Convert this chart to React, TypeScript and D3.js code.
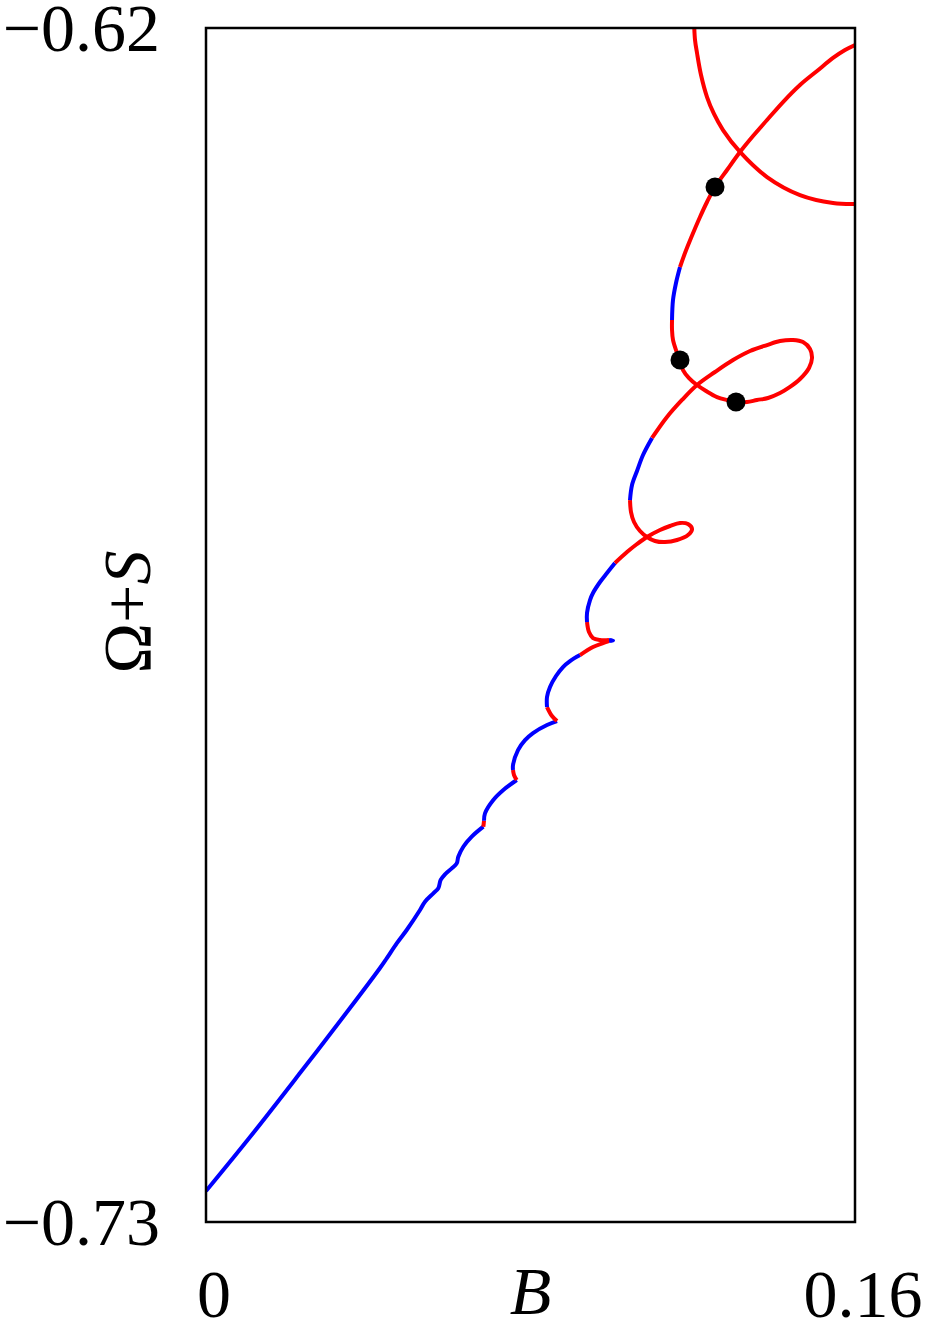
import React from "react";
import * as d3 from "d3";

// Axis domains and tick labels
const xDomain: [number, number] = [0, 0.16];
const yDomain: [number, number] = [-0.73, -0.62];
const xTickValues = [0, 0.16];
const xTickLabels = ["0", "0.16"];
const yTickValues = [-0.62, -0.73];
const yTickLabels = ["\u22120.62", "\u22120.73"];

type P = [number, number];

// Main branch, split into stability-coloured pieces (B, Ω+S)
const seg01: P[] = [[0, -0.72715], [0.01085, -0.72217], [0.02317, -0.71628], [0.0355, -0.71029], [0.0429, -0.7066], [0.04455, -0.70571], [0.04702, -0.70433], [0.04948, -0.7031], [0.05276, -0.70126], [0.05399, -0.70049], [0.05604, -0.69972], [0.05727, -0.69926], [0.05786, -0.69849], [0.05892, -0.69797], [0.06058, -0.69742], [0.06181, -0.69696], [0.0622, -0.69635], [0.06344, -0.69543], [0.06551, -0.6945], [0.06837, -0.69358]];
const seg02: P[] = [[0.06837, -0.69358], [0.06854, -0.69303]];
const seg03: P[] = [[0.06854, -0.69303], [0.06878, -0.69235], [0.07083, -0.69112], [0.0733, -0.6902], [0.0766, -0.68928]];
const seg04: P[] = [[0.0766, -0.68928], [0.07593, -0.68882], [0.07569, -0.68836]];
const seg05: P[] = [[0.07569, -0.68836], [0.07569, -0.6879], [0.07692, -0.68652], [0.07865, -0.6856], [0.08062, -0.68495], [0.08407, -0.68421], [0.08654, -0.68385]];
const seg06: P[] = [[0.08654, -0.68385], [0.0853, -0.68339], [0.08407, -0.68256]];
const seg07: P[] = [[0.08407, -0.68256], [0.08407, -0.68163], [0.08481, -0.68071], [0.08629, -0.6797], [0.08801, -0.67887], [0.08974, -0.67832], [0.09221, -0.67777]];
const seg08: P[] = [[0.09221, -0.67777], [0.09541, -0.67703], [0.09788, -0.67666], [0.09936, -0.67648]];
const seg09: P[] = [[0.09936, -0.67648], [0.10034, -0.67643], [0.09936, -0.67638]];
const seg10: P[] = [[0.09936, -0.67638], [0.09714, -0.67638], [0.09541, -0.6762], [0.09442, -0.67565], [0.09393, -0.67473]];
const seg11: P[] = [[0.09393, -0.67473], [0.09393, -0.6739], [0.09467, -0.6727], [0.09541, -0.67205], [0.09714, -0.67104], [0.09886, -0.67021], [0.10083, -0.66929]];
const seg12: P[] = [[0.10083, -0.66929], [0.10379, -0.66828], [0.10626, -0.66754], [0.10872, -0.66689], [0.11193, -0.66625], [0.11439, -0.66588], [0.11686, -0.6656], [0.11883, -0.6657], [0.11982, -0.66616], [0.11883, -0.66671], [0.11612, -0.66717], [0.11316, -0.66736], [0.1107, -0.66726], [0.10872, -0.66689], [0.107, -0.66634], [0.10552, -0.66551], [0.10478, -0.66459], [0.10453, -0.66349]];
const seg13: P[] = [[0.10453, -0.66349], [0.10503, -0.6621], [0.10626, -0.66081], [0.10774, -0.65934], [0.10996, -0.65777]];
const seg14: P[] = [[0.10996, -0.65777], [0.11365, -0.65584], [0.11735, -0.65427], [0.12105, -0.65289], [0.12549, -0.65169], [0.12993, -0.65059], [0.13412, -0.64976], [0.13831, -0.64921], [0.14151, -0.64884], [0.14472, -0.64874], [0.14718, -0.64893], [0.14891, -0.64957], [0.1494, -0.6504], [0.14866, -0.65132], [0.14644, -0.65234], [0.14398, -0.65307], [0.14151, -0.65363], [0.13856, -0.65409], [0.13584, -0.65427], [0.13338, -0.65446], [0.13091, -0.65446], [0.12845, -0.65427], [0.12598, -0.654], [0.12327, -0.65344], [0.12105, -0.65289], [0.11908, -0.65225], [0.1176, -0.65151], [0.11686, -0.65059], [0.11587, -0.64967], [0.11513, -0.64874], [0.11489, -0.64782], [0.11489, -0.6469]];
const seg15: P[] = [[0.11489, -0.6469], [0.11513, -0.64506], [0.11587, -0.64349], [0.11686, -0.64202]];
const seg16: P[] = [[0.11686, -0.64202], [0.11809, -0.64073], [0.11957, -0.63935], [0.12179, -0.63741], [0.12352, -0.63603], [0.12549, -0.63465], [0.12845, -0.63308], [0.13165, -0.63142], [0.13486, -0.62995], [0.13831, -0.62848], [0.14225, -0.62682], [0.14644, -0.62525], [0.15064, -0.62396], [0.15458, -0.62276], [0.15754, -0.62203], [0.16, -0.62157]];

const mainSegments: P[][] = [seg01, seg02, seg03, seg04, seg05, seg06, seg07, seg08, seg09, seg10, seg11, seg12, seg13, seg14, seg15, seg16];
const mainStable: boolean[] = [true, false, true, false, true, false, true, false, true, false, true, false, true, false, true, false];

// Second (unstable) branch in the upper-right corner
const branch2: P[] = [[0.12031, -0.61926], [0.12056, -0.62111], [0.12105, -0.6223], [0.12204, -0.62433], [0.12352, -0.62636], [0.12524, -0.62792], [0.12746, -0.6294], [0.13165, -0.63142], [0.13831, -0.63373], [0.14644, -0.63539], [0.15458, -0.63612], [0.16, -0.63621]];

// Marked points
const markers: P[] = [[0.12549, -0.63465], [0.11686, -0.65059], [0.13067, -0.65446]];

const W = 926;
const H = 1321;
const plot = { left: 206, right: 855, top: 28, bottom: 1222 };

export default function App() {
  const x = d3.scaleLinear().domain(xDomain).range([plot.left, plot.right]);
  const y = d3.scaleLinear().domain(yDomain).range([plot.bottom, plot.top]);
  const line = d3
    .line<P>()
    .x((d) => x(d[0]))
    .y((d) => y(d[1]))
    .curve(d3.curveCatmullRom.alpha(0.5));

  const font = "'Liberation Serif', 'Times New Roman', serif";

  return (
    <svg
      width={W}
      height={H}
      viewBox={`0 0 ${W} ${H}`}
      style={{ position: "absolute", left: 0, top: 0, background: "#fff" }}
    >
      <defs>
        <clipPath id="plotClip">
          <rect x={plot.left} y={plot.top} width={plot.right - plot.left} height={plot.bottom - plot.top} />
        </clipPath>
      </defs>
      <g clipPath="url(#plotClip)">
        {mainSegments.map((seg, i) => (
          <path
            key={i}
            d={line(seg) || ""}
            fill="none"
            stroke={mainStable[i] ? "#0000ff" : "#ff0000"}
            strokeWidth={4}
            strokeLinecap="butt"
            strokeLinejoin="round"
          />
        ))}
        <path d={line(branch2) || ""} fill="none" stroke="#ff0000" strokeWidth={4} />
        {markers.map((m, i) => (
          <circle key={i} cx={x(m[0])} cy={y(m[1])} r={9.5} fill="#000" />
        ))}
      </g>
      <rect
        x={plot.left}
        y={plot.top}
        width={plot.right - plot.left}
        height={plot.bottom - plot.top}
        fill="none"
        stroke="#000"
        strokeWidth={2.5}
      />
      {yTickValues.map((v, i) => (
        <text
          key={i}
          x={160}
          y={y(v) + 23}
          textAnchor="end"
          fontFamily={font}
          fontSize={68}
          fill="#000"
        >
          {yTickLabels[i]}
        </text>
      ))}
      {xTickValues.map((v, i) => (
        <text
          key={i}
          x={x(v) + 8}
          y={1317}
          textAnchor="middle"
          fontFamily={font}
          fontSize={68}
          fill="#000"
        >
          {xTickLabels[i]}
        </text>
      ))}
      <text
        x={(plot.left + plot.right) / 2}
        y={1314}
        textAnchor="middle"
        fontFamily={font}
        fontSize={68}
        fontStyle="italic"
        fill="#000"
      >
        B
      </text>
      <text
        transform={`translate(150, 612) rotate(-90)`}
        textAnchor="middle"
        fontFamily={font}
        fontSize={68}
        fill="#000"
      >
        {"\u03A9+"}
        <tspan style={{ fontStyle: "italic" }}>S</tspan>
      </text>
    </svg>
  );
}
